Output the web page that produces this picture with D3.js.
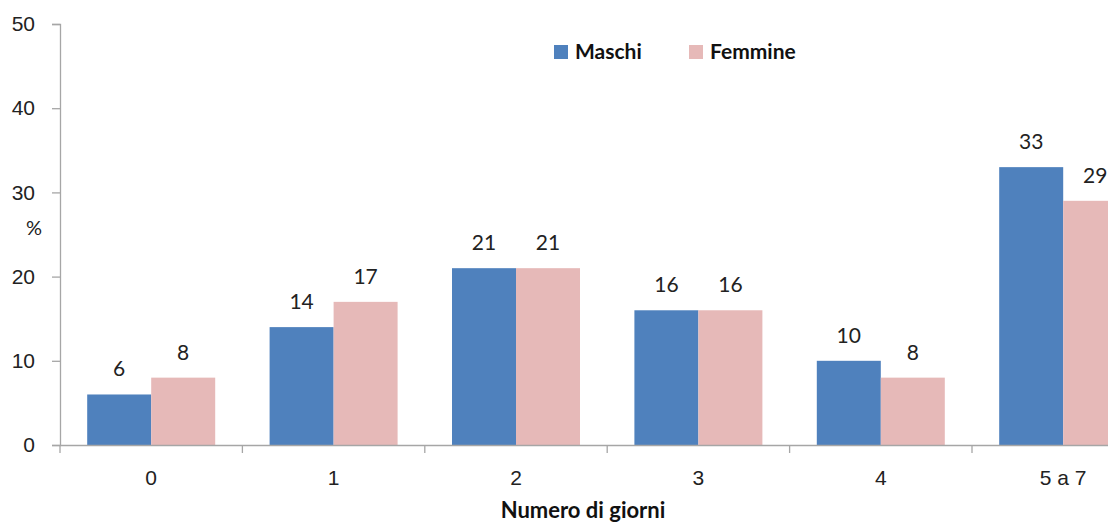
<!DOCTYPE html>
<html>
<head>
<meta charset="utf-8">
<script src="https://cdn.jsdelivr.net/npm/d3@7"></script>
<style>
  html, body { margin: 0; padding: 0; background: #fff; overflow: hidden; }
  svg { display: block; font-family: Lato, "Open Sans", sans-serif; }
</style>
</head>
<body>
<div id="chart"></div>
<script>
// data
const categories = ["0", "1", "2", "3", "4", "5 a 7"];
const series = ["Maschi", "Femmine"];
const maschi = [6, 14, 21, 16, 10, 33];
const femmine = [8, 17, 21, 16, 8, 29];
const yTicks = [0, 10, 20, 30, 40, 50];
const colors = ["#4F81BD", "#E6B9B8"];

const width = 1108, height = 524;
const svg = d3.select("#chart").append("svg")
  .attr("width", width)
  .attr("height", height);

// plot area (right side runs past the window, as in the source)
const x = d3.scaleBand()
  .domain(categories)
  .range([60, 60 + 6 * 182.4])
  .paddingInner(0)
  .paddingOuter(0);

const inner = d3.scaleBand()
  .domain(series)
  .range([0, x.bandwidth()])
  .paddingOuter(0.425)
  .paddingInner(0);

const y = d3.scaleLinear()
  .domain([0, 50])
  .range([445, 24]);

const rows = categories.map((c, i) => ({ cat: c, values: [maschi[i], femmine[i]] }));

// bars
const groups = svg.append("g")
  .selectAll("g")
  .data(rows)
  .join("g")
  .attr("transform", d => `translate(${x(d.cat)},0)`);

groups.selectAll("rect")
  .data(d => d.values.map((v, j) => ({ key: series[j], v, j })))
  .join("rect")
  .attr("x", d => inner(d.key))
  .attr("y", d => y(d.v))
  .attr("width", inner.bandwidth())
  .attr("height", d => y(0) - y(d.v))
  .attr("fill", d => colors[d.j]);

// value labels
groups.selectAll("text")
  .data(d => d.values.map((v, j) => ({ key: series[j], v, j })))
  .join("text")
  .attr("x", d => inner(d.key) + inner.bandwidth() / 2)
  .attr("y", d => y(d.v) - 18)
  .attr("text-anchor", "middle")
  .attr("font-size", 21)
  .attr("fill", "#222")
  .text(d => d.v);

// y axis
const yAxis = svg.append("g")
  .attr("transform", "translate(60,0)")
  .call(d3.axisLeft(y).tickValues(yTicks).tickSize(8).tickPadding(17));
yAxis.select(".domain").attr("stroke", "#a6a6a6").attr("stroke-width", 1.3);
yAxis.selectAll(".tick line").attr("stroke", "#a6a6a6").attr("stroke-width", 1.3);
yAxis.selectAll(".tick text").attr("font-size", 21).attr("fill", "#222");

// x axis
const xAxis = svg.append("g")
  .attr("transform", `translate(0,${y(0)})`)
  .call(d3.axisBottom(x).tickSize(0).tickPadding(25));
xAxis.select(".domain").attr("stroke", "#a6a6a6").attr("stroke-width", 1.3);
xAxis.selectAll(".tick text").attr("font-size", 21).attr("fill", "#222");
// tick marks on band boundaries
xAxis.selectAll(".bound")
  .data(categories)
  .join("line")
  .attr("class", "bound")
  .attr("x1", d => x(d))
  .attr("x2", d => x(d))
  .attr("y1", 0)
  .attr("y2", 8)
  .attr("stroke", "#a6a6a6")
  .attr("stroke-width", 1.3);

// axis titles
svg.append("text")
  .attr("x", 34)
  .attr("y", 235)
  .attr("text-anchor", "middle")
  .attr("font-size", 20)
  .attr("fill", "#222")
  .text("%");

svg.append("text")
  .attr("x", 583)
  .attr("y", 518)
  .attr("text-anchor", "middle")
  .attr("font-size", 22)
  .attr("font-weight", "bold")
  .attr("fill", "#111")
  .text("Numero di giorni");

// legend
const legendX = [554, 689];
const legend = svg.append("g")
  .selectAll("g")
  .data(series)
  .join("g")
  .attr("transform", (d, i) => `translate(${legendX[i]},45)`);
legend.append("rect")
  .attr("width", 14)
  .attr("height", 14)
  .attr("fill", (d, i) => colors[i]);
legend.append("text")
  .attr("x", 21)
  .attr("y", 14)
  .attr("font-size", 21)
  .attr("font-weight", "bold")
  .attr("fill", "#111")
  .text(d => d);
</script>
</body>
</html>
